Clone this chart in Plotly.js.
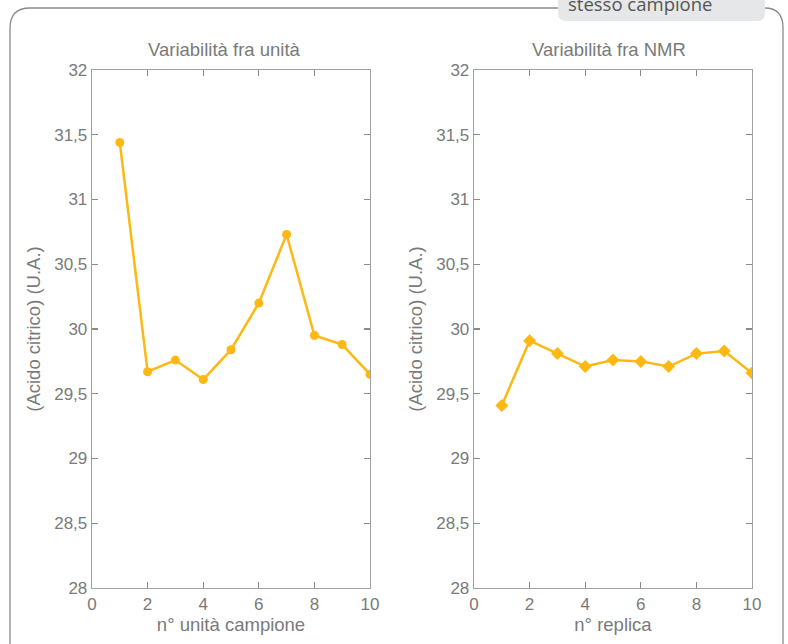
<!DOCTYPE html>
<html>
<head>
<meta charset="utf-8">
<script src="https://cdn.plot.ly/plotly-3.0.1.min.js"></script>
<style>html,body{margin:0;padding:0;background:#fff;}#chart{width:788px;height:644px;}</style>
</head>
<body>
<div id="chart"></div>
<script>
// ---- data ----
const unitaX = [1, 2, 3, 4, 5, 6, 7, 8, 9, 10];
const unitaY = [31.44, 29.67, 29.76, 29.61, 29.84, 30.20, 30.73, 29.95, 29.88, 29.65];
const replicaX = [1, 2, 3, 4, 5, 6, 7, 8, 9, 10];
const replicaY = [29.41, 29.91, 29.81, 29.71, 29.76, 29.75, 29.71, 29.81, 29.83, 29.66];
const titleLeft = 'Variabilità fra unità';
const titleRight = 'Variabilità fra NMR';
const xTitleLeft = 'n° unità campione';
const xTitleRight = 'n° replica';
const yTitle = '(Acido citrico) (U.A.)';
const tabText = 'stesso campione';

const W = 788, H = 644;
const px = x => x / W;
const py = y => 1 - y / H;
const C = '#FDB813';
const grey = '#7a7a7a';
const fam = 'Liberation Sans, Arial, sans-serif';
const tickFont = {family: fam, size: 17, color: grey};
const titleFont = {family: fam, size: 18.5, color: grey};

const traces = [
  {x: unitaX, y: unitaY, xaxis: 'x', yaxis: 'y', mode: 'lines+markers', type: 'scatter',
   line: {color: C, width: 2.5}, marker: {color: C, size: 9, symbol: 'circle'}, hoverinfo: 'skip'},
  {x: replicaX, y: replicaY, xaxis: 'x2', yaxis: 'y2', mode: 'lines+markers', type: 'scatter',
   line: {color: C, width: 2.5}, marker: {color: C, size: 10, symbol: 'diamond'}, hoverinfo: 'skip'}
];

function xa(dom, title) {
  return {domain: dom, range: [0, 10], dtick: 2, tick0: 0, showgrid: false, zeroline: false,
    showline: true, linecolor: '#a0a0a0', linewidth: 1.3, mirror: 'ticks', ticks: 'inside',
    ticklen: 6, tickcolor: '#8a8a8a', tickwidth: 1.2, tickfont: tickFont, fixedrange: true,
    title: {text: title, font: titleFont, standoff: 4}};
}
function ya(dom, anchor, title) {
  return {domain: dom, range: [28, 32], dtick: 0.5, tick0: 28, showgrid: false, zeroline: false,
    showline: true, linecolor: '#a0a0a0', linewidth: 1.3, mirror: 'ticks', ticks: 'inside',
    ticklen: 6, tickcolor: '#8a8a8a', tickwidth: 1.2, tickfont: tickFont, anchor: anchor, fixedrange: true,
    title: {text: title, font: titleFont, standoff: 8}};
}

const yDom = [py(588), py(70)];
const layout = {
  width: W, height: H,
  margin: {l: 0, r: 0, t: 0, b: 0},
  paper_bgcolor: '#fff', plot_bgcolor: '#fff',
  separators: ',.',
  showlegend: false,
  font: tickFont,
  xaxis: Object.assign(xa([px(92), px(370)], xTitleLeft), {anchor: 'y'}),
  yaxis: ya(yDom, 'x', yTitle),
  xaxis2: Object.assign(xa([px(474), px(752)], xTitleRight), {anchor: 'y2'}),
  yaxis2: ya(yDom, 'x2', yTitle),
  shapes: [
    {type: 'path', xref: 'paper', yref: 'paper', line: {color: '#8a8a8a', width: 1.3},
     path: `M ${px(10)} ${py(660)} L ${px(10)} ${py(28)} Q ${px(10)} ${py(8)} ${px(30)} ${py(8)} L ${px(765)} ${py(8)} Q ${px(783)} ${py(8)} ${px(783)} ${py(28)} L ${px(783)} ${py(660)}`},
    {type: 'path', xref: 'paper', yref: 'paper', line: {width: 0}, fillcolor: '#E6E7E8',
     path: `M ${px(558)} ${py(-10)} L ${px(558)} ${py(13)} Q ${px(558)} ${py(21)} ${px(566)} ${py(21)} L ${px(757)} ${py(21)} Q ${px(765)} ${py(21)} ${px(765)} ${py(13)} L ${px(765)} ${py(-10)} Z`}
  ],
  annotations: [
    {text: titleLeft, xref: 'paper', yref: 'paper', x: px(224), y: py(49), showarrow: false,
     xanchor: 'center', yanchor: 'middle', font: titleFont},
    {text: titleRight, xref: 'paper', yref: 'paper', x: px(609), y: py(49), showarrow: false,
     xanchor: 'center', yanchor: 'middle', font: titleFont},
    {text: tabText, xref: 'paper', yref: 'paper', x: px(566), y: py(3), showarrow: false,
     xanchor: 'left', yanchor: 'middle', font: {family: 'Open Sans, sans-serif', size: 18.5, color: '#555'}}
  ]
};

Plotly.newPlot('chart', traces, layout, {staticPlot: true, displayModeBar: false});
</script>
</body>
</html>
